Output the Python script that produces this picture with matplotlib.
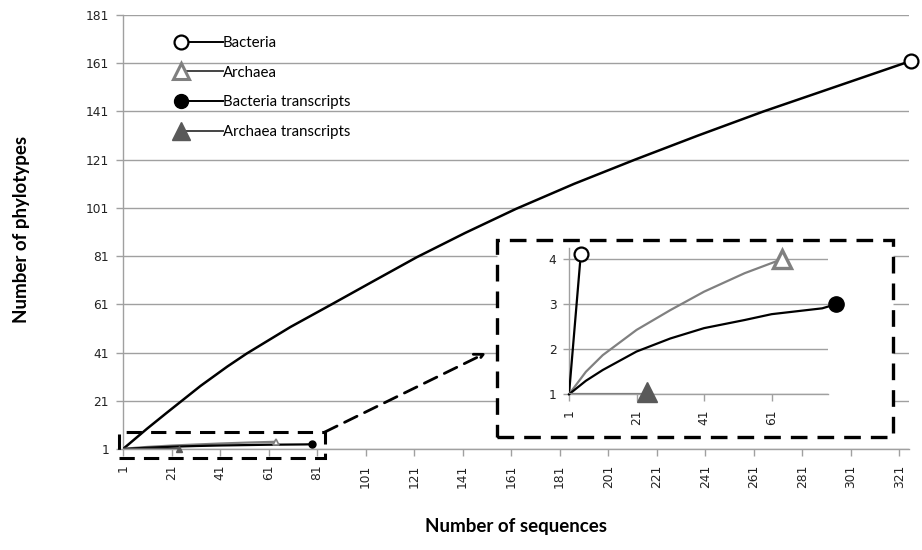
import numpy as np
import matplotlib
matplotlib.use("Agg")
import matplotlib.pyplot as plt
from matplotlib.lines import Line2D
from matplotlib.patches import Rectangle
from matplotlib.legend_handler import HandlerLine2D

# =========================
# DATA
# =========================
bacteria_x = [1, 11, 19, 24, 33, 44, 52, 70, 87, 104, 122, 142, 163, 187, 212, 238, 265, 294, 323, 326]
bacteria_y = [1, 9.5, 16, 20, 27.2, 35.2, 40.6, 51.6, 61, 70.5, 80.5, 90.6, 100.6, 111, 121, 131, 141, 151, 161, 162]

archaea_x = [1, 6, 11, 21, 31, 41, 53, 64]
archaea_y = [1, 1.5, 1.87, 2.43, 2.87, 3.28, 3.69, 4]

bact_tr_x = [1, 6, 11, 21, 31, 41, 53, 61, 76, 80]
bact_tr_y = [1, 1.3, 1.54, 1.95, 2.24, 2.47, 2.65, 2.78, 2.91, 3]

arch_tr_x = [1, 24]
arch_tr_y = [1, 1]

# bacteria as seen in the inset (leaves the inset scale quickly)
inset_bact_x = [1, 4.5]
inset_bact_y = [1, 4.12]

main_xticks = list(range(1, 322, 20))
main_yticks = list(range(1, 182, 20))
inset_xticks = [1, 21, 41, 61]
inset_yticks = [1, 2, 3, 4]

# zoom box drawn around the bottom-left corner (data units)
ZOOM_X = (-0.7, 84.1)
ZOOM_Y = (-2.7, 8.0)

GRID = "#a0a0a0"
ARCH = "#808080"
ARCH_TR = "#595959"


class MarkerLeft(HandlerLine2D):
    # legend entry with the marker sitting on the left end of the line
    def create_artists(self, legend, orig_handle, xdescent, ydescent,
                       width, height, fontsize, trans):
        y = (height - ydescent) / 2
        line = Line2D([-xdescent, -xdescent + width], [y, y])
        self.update_prop(line, orig_handle, legend)
        line.set_markevery([0])
        line.set_transform(trans)
        return [line]


def style_axis(ax, ticksize):
    for side in ["top", "right"]:
        ax.spines[side].set_visible(False)
    for side in ["left", "bottom"]:
        ax.spines[side].set_color(GRID)
        ax.spines[side].set_linewidth(1.0)
    ax.tick_params(axis="both", colors=GRID, length=5, width=1.0,
                   labelsize=ticksize, labelcolor="#222222")
    ax.grid(axis="y", color=GRID, linewidth=1.0)
    ax.set_axisbelow(True)


fig = plt.figure(figsize=(9.22, 5.5), dpi=100)

# =========================
# MAIN AXES
# =========================
ax = fig.add_axes([0.1334, 0.1836, 0.8525, 0.7891])
style_axis(ax, 8.8)
ax.set_xlim(1, 325)
ax.set_ylim(1, 181)
ax.set_xticks(main_xticks)
ax.set_yticks(main_yticks)
ax.tick_params(axis="x", labelrotation=90, pad=6)
ax.tick_params(axis="y", pad=5)

ax.plot(bacteria_x, bacteria_y, color="black", lw=1.8, zorder=3)
ax.plot(bacteria_x[-1], bacteria_y[-1], "o", ms=10, mfc="white", mec="black",
        mew=1.6, clip_on=False, zorder=4)
ax.plot(archaea_x, archaea_y, color=ARCH, lw=1.6, zorder=3)
ax.plot(archaea_x[-1], archaea_y[-1], "^", ms=5, mfc="white", mec=ARCH, mew=1.2, zorder=4)
ax.plot(bact_tr_x, bact_tr_y, color="black", lw=1.6, zorder=3)
ax.plot(bact_tr_x[-1] - 1, bact_tr_y[-1], "o", ms=5, color="black", zorder=4)
ax.plot(arch_tr_x, arch_tr_y, color=ARCH_TR, lw=1.6, zorder=3)
ax.plot(arch_tr_x[-1], arch_tr_y[-1], "^", ms=5, color=ARCH_TR, clip_on=False, zorder=4)

ax.set_xlabel("Number of sequences", fontsize=13.5, fontweight="bold", family="Lato")
ax.set_ylabel("Number of phylotypes", fontsize=13.5, fontweight="bold", family="Lato")
ax.xaxis.set_label_coords(0.4995, -0.16)
ax.yaxis.set_label_coords(-0.118, 0.505)

# dashed box around the zoomed region
ax.add_patch(Rectangle((ZOOM_X[0], ZOOM_Y[0]), ZOOM_X[1] - ZOOM_X[0], ZOOM_Y[1] - ZOOM_Y[0],
                       fill=False, ec="black", lw=2.2, ls=(0, (5, 3)),
                       clip_on=False, zorder=5))

# legend
handles = [
    Line2D([], [], color="black", lw=1.4, marker="o", ms=10, mfc="white", mec="black", mew=1.6),
    Line2D([], [], color="#444444", lw=1.4, marker="^", ms=12, mfc="white", mec=ARCH, mew=2.2),
    Line2D([], [], color="black", lw=1.4, marker="o", ms=10, mfc="black", mec="black"),
    Line2D([], [], color="#444444", lw=1.4, marker="^", ms=13, mfc=ARCH_TR, mec=ARCH_TR),
]
labels = ["Bacteria", "Archaea", "Bacteria transcripts", "Archaea transcripts"]
ax.legend(handles, labels, loc="upper left", bbox_to_anchor=(0.056, 0.983),
          frameon=False, handlelength=2.8, handletextpad=0.0, labelspacing=1.05,
          prop={"family": "Lato", "size": 10.8},
          handler_map={Line2D: MarkerLeft()})

# =========================
# INSET
# =========================
fig.add_artist(Rectangle((497 / 922, 1 - 437 / 550), 396 / 922, 197 / 550,
                         transform=fig.transFigure, fc="white", ec="black",
                         lw=2.4, ls=(0, (5, 3)), zorder=1))

ax_in = fig.add_axes([569 / 922, 1 - 394.3 / 550, 259 / 922, 146.3 / 550])
ax_in.set_zorder(2)
ax_in.patch.set_visible(False)
style_axis(ax_in, 8.8)
ax_in.set_xlim(1, 77.7)
ax_in.set_ylim(1, 4.25)
ax_in.set_xticks(inset_xticks)
ax_in.set_yticks(inset_yticks)
ax_in.tick_params(axis="x", labelrotation=90, pad=6)
ax_in.tick_params(axis="y", length=4, pad=5)

ax_in.plot(inset_bact_x, inset_bact_y, color="black", lw=1.6, zorder=3)
ax_in.plot(inset_bact_x[-1], inset_bact_y[-1], "o", ms=10, mfc="white", mec="black",
           mew=1.6, clip_on=False, zorder=4)
ax_in.plot(archaea_x, archaea_y, color=ARCH, lw=1.6, zorder=3)
ax_in.plot(archaea_x[-1], archaea_y[-1], "^", ms=13, mfc="white", mec=ARCH, mew=2.4,
           clip_on=False, zorder=4)
ax_in.plot(bact_tr_x, bact_tr_y, color="black", lw=1.6, clip_on=False, zorder=3)
ax_in.plot(bact_tr_x[-1], bact_tr_y[-1], "o", ms=11, color="black", clip_on=False, zorder=4)
ax_in.plot(arch_tr_x, arch_tr_y, color=ARCH, lw=1.6, zorder=3)
ax_in.plot(arch_tr_x[-1], arch_tr_y[-1] + 0.05, "^", ms=14, color=ARCH_TR,
           clip_on=False, zorder=4)

# dashed arrow from the zoom box to the inset
ax.annotate("", xy=(486 / 922, 1 - 353 / 550), xycoords="figure fraction",
            xytext=(ZOOM_X[1], ZOOM_Y[1]), textcoords="data",
            arrowprops=dict(arrowstyle="->", color="black", lw=2.0,
                            linestyle=(0, (5, 3)), shrinkA=0, shrinkB=0,
                            mutation_scale=16),
            annotation_clip=False, zorder=5)

fig.savefig("out.png", dpi=100)
